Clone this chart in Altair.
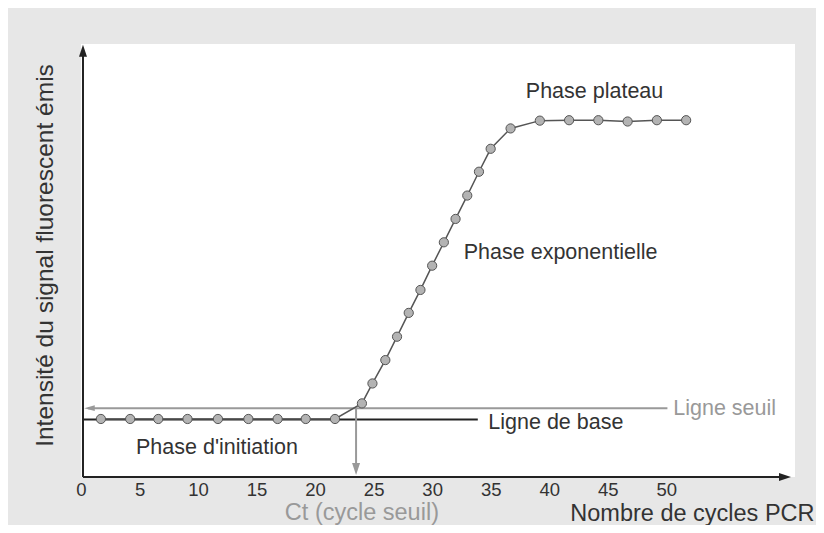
import altair as alt
import pandas as pd

# PCR cycles and emitted fluorescence (arbitrary units, 0-100)
cycles = [1.7, 4.2, 6.6, 9.1, 11.7, 14.3, 16.8, 19.2, 21.7,
          24.0, 24.9, 26.0, 27.0, 28.0, 29.0, 30.0, 31.0, 32.0, 33.0, 34.0, 35.0,
          36.7, 39.2, 41.7, 44.2, 46.7, 49.2, 51.7]
fluo = [13.4, 13.4, 13.4, 13.4, 13.4, 13.4, 13.4, 13.4, 13.4,
        17.0, 21.6, 27.0, 32.4, 37.9, 43.2, 48.8, 54.2, 59.6, 65.0, 70.5, 75.8,
        80.5, 82.3, 82.4, 82.4, 82.1, 82.4, 82.4]
x_ticks = [0, 5, 10, 15, 20, 25, 30, 35, 40, 45, 50]

baseline_level = 13.3
baseline_end = 33.9
threshold_level = 15.9
threshold_start = 0.6
threshold_end = 50.1
ct_cycle = 23.5

ann_text = ["Phase plateau", "Phase exponentielle", "Phase d'initiation",
            "Ligne de base", "Ligne seuil"]
ann_x = [38.0, 32.7, 4.7, 34.8, 50.6]
ann_y = [88.9, 51.7, 6.6, 12.5, 15.7]
ann_color = ["#333333", "#333333", "#333333", "#333333", "#999999"]

ct_label = "Ct (cycle seuil)"
ct_label_x = 24.0
ct_label_y = -9.9

x_min, x_max = 0.0, 61.0
y_min, y_max = 0.0, 100.0
y_axis_x = 0.17
x_axis_end = 60.66
y_axis_end = 99.8

FONT = "Liberation Sans"
DARK = "#333333"
GREY = "#999999"

x_scale = alt.Scale(domain=[x_min, x_max], nice=False, zero=False)
y_scale = alt.Scale(domain=[y_min, y_max], nice=False, zero=False)

x_axis = alt.Axis(values=x_ticks, domain=False, ticks=False, grid=False,
                  labelFontSize=18.5, labelColor=DARK, labelFont=FONT,
                  labelPadding=3, labelFlush=False, labelOverlap=False,
                  title="Nombre de cycles PCR", titleFontSize=23.5,
                  titleFontWeight="normal", titleColor=DARK, titleFont=FONT,
                  titleAlign="right", titleAnchor="end", titleX=733, titleY=43,
                  titleBaseline="alphabetic")
y_axis = alt.Axis(labels=False, ticks=False, domain=False, grid=False,
                  title="Intensité du signal fluorescent émis", titleFontSize=24.5,
                  titleFontWeight="normal", titleColor=DARK, titleFont=FONT,
                  titleAngle=270, titleX=-36, titleY=211, titleAlign="center",
                  titleBaseline="middle")


def X(f):
    return alt.X(f, type="quantitative", scale=x_scale, axis=x_axis)


def Y(f):
    return alt.Y(f, type="quantitative", scale=y_scale, axis=y_axis)


curve = pd.DataFrame({"cycle": cycles, "fluo": fluo})

# axes drawn as lines with arrowheads
axes_df = pd.DataFrame({"x": [y_axis_x, y_axis_x], "x2": [x_axis_end - 0.3, y_axis_x],
                        "y": [0.0, 0.0], "y2": [0.0, y_axis_end - 1.0]})
axes_rules = alt.Chart(axes_df).mark_rule(color="#222222", strokeWidth=2).encode(
    x=X("x"), x2="x2", y=Y("y"), y2="y2")

base_df = pd.DataFrame({"x": [y_axis_x], "x2": [baseline_end], "y": [baseline_level]})
base_rule = alt.Chart(base_df).mark_rule(color="#222222", strokeWidth=2).encode(
    x=X("x"), x2="x2", y=Y("y"))

thr_df = pd.DataFrame({"x": [threshold_start], "x2": [threshold_end], "y": [threshold_level]})
thr_rule = alt.Chart(thr_df).mark_rule(color=GREY, strokeWidth=2).encode(
    x=X("x"), x2="x2", y=Y("y"))

ct_df = pd.DataFrame({"x": [ct_cycle], "y": [threshold_level], "y2": [1.5]})
ct_rule = alt.Chart(ct_df).mark_rule(color=GREY, strokeWidth=2).encode(
    x=X("x"), y=Y("y"), y2="y2")

line = alt.Chart(curve).mark_line(color="#555555", strokeWidth=1.5).encode(
    x=X("cycle"), y=Y("fluo"))
points = alt.Chart(curve).mark_point(filled=True, shape="circle", size=85,
                                     fill="#b3b3b3", stroke="#555555",
                                     strokeWidth=1, opacity=1).encode(
    x=X("cycle"), y=Y("fluo"))

UP = "M0,0L-1.33,4L1.33,4Z"
DOWN = "M0,0L-1.33,-4L1.33,-4Z"
RIGHT = "M0,0L-4,-1.33L-4,1.33Z"
LEFT = "M0,0L4,-1.1L4,1.1Z"
heads_df = pd.DataFrame({
    "x": [y_axis_x, x_axis_end, 0.27, ct_cycle],
    "y": [y_axis_end, 0.0, threshold_level, 0.45],
    "shape": [UP, RIGHT, LEFT, DOWN],
    "color": ["#222222", "#222222", GREY, GREY],
    "size": [36, 36, 28, 36],
})
heads = alt.Chart(heads_df).mark_point(filled=True, opacity=1, strokeWidth=0).encode(
    x=X("x"), y=Y("y"),
    shape=alt.Shape("shape:N", scale=None),
    color=alt.Color("color:N", scale=None),
    size=alt.Size("size:Q", scale=None))

ann_df = pd.DataFrame({"t": ann_text, "x": ann_x, "y": ann_y, "c": ann_color})
ann = alt.Chart(ann_df).mark_text(align="left", baseline="middle", font=FONT,
                                  fontSize=21.5).encode(
    x=X("x"), y=Y("y"), text="t:N", color=alt.Color("c:N", scale=None))

ct_txt_df = pd.DataFrame({"t": [ct_label], "x": [ct_label_x], "y": [ct_label_y]})
ct_txt = alt.Chart(ct_txt_df).mark_text(align="center", baseline="alphabetic",
                                        font=FONT, fontSize=23.5, color=GREY).encode(
    x=X("x"), y=Y("y"), text="t:N")

chart = alt.layer(axes_rules, base_rule, thr_rule, ct_rule, line, points,
                  ann, ct_txt, heads).properties(
    width=714, height=433, autosize="none",
    padding={"left": 73, "top": 36, "right": 21, "bottom": 48},
    background="#e7e7e7",
).configure_view(fill="white", strokeWidth=0)

chart.save("out.html", embed_options={"renderer": "svg", "actions": False})
